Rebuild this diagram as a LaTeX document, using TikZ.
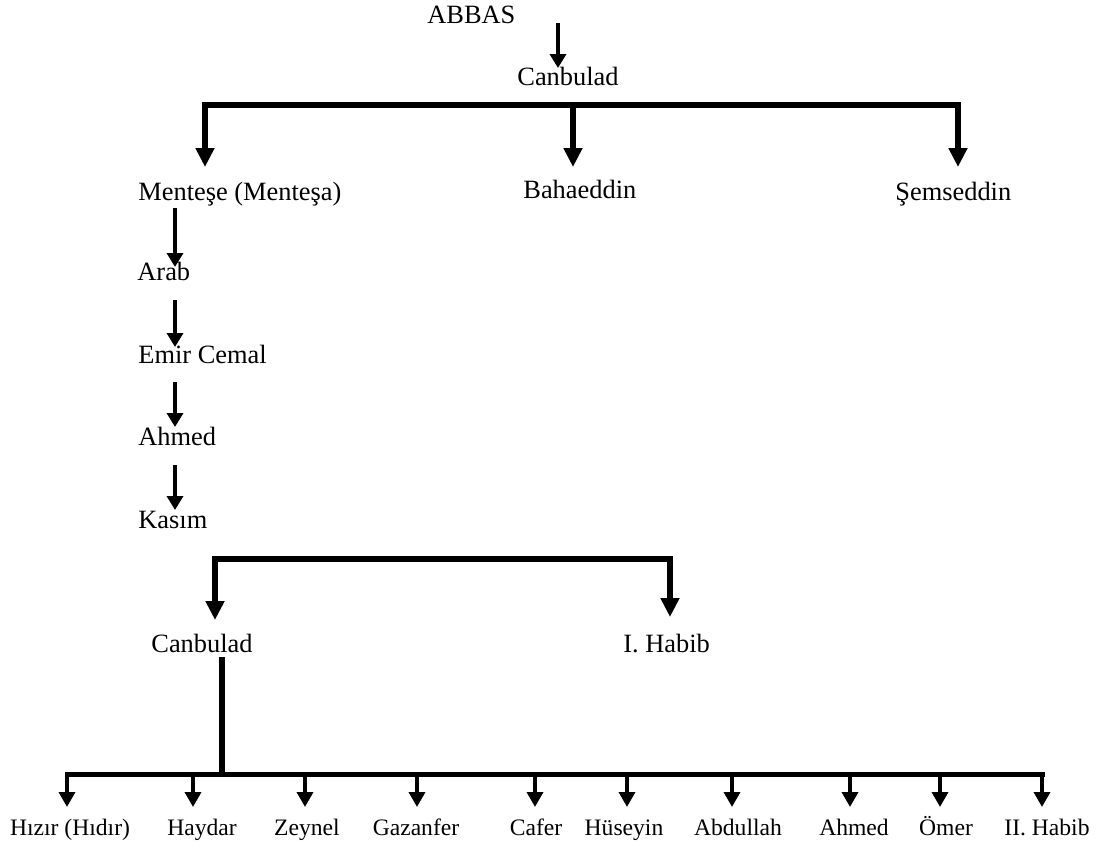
\documentclass[tikz,border=0pt]{standalone}
\usepackage{fontspec}
\setmainfont{Liberation Serif}
\usetikzlibrary{arrows.meta,calc}
\begin{document}
\begin{tikzpicture}[x=0.5pt,y=-0.5pt,
  lbl/.style={inner sep=0pt, anchor=base west, font=\fontsize{13.2}{16}\selectfont},
  sml/.style={inner sep=0pt, anchor=base, font=\fontsize{11.8}{14}\selectfont},
  bar/.style={line width=3pt, line cap=rect},
  thinbar/.style={line width=2.5pt, line cap=rect},
  bigarr/.style={line width=3pt, -{Triangle[width=9pt,length=9.5pt]}},
  arr/.style={line width=2pt, -{Triangle[width=8pt,length=7pt]}},
  smarr/.style={line width=1.75pt, -{Triangle[width=8pt,length=7.5pt]}}]
\useasboundingbox (0,0) rectangle (1100,846);

% labels
\node[lbl] (abbas)   at (427,24)  {ABBAS};
\node[lbl] (can1)    at (517,85)  {Canbulad};
\node[lbl] (mentese) at (138,200) {Menteşe (Menteşa)};
\node[lbl] (baha)    at (523,198) {Bahaeddin};
\node[lbl] (semse)   at (895,200) {Şemseddin};
\node[lbl] (arab)    at (137,280) {Arab};
\node[lbl] (emir)    at (138,363) {Emir Cemal};
\node[lbl] (ahmed)   at (138,445) {Ahmed};
\node[lbl] (kasim)   at (138,528) {Kasım};
\node[lbl] (can2)    at (151,652) {Canbulad};
\node[lbl] (habib)   at (623,652) {I. Habib};

% helper coordinates
\coordinate (colT) at (558,0);
\coordinate (colA) at (175,0);
\coordinate (tl) at (205,105);
\coordinate (tm) at (573,105);
\coordinate (tr) at (958,105);
\coordinate (ll) at (215,559);
\coordinate (lr) at (670,559);
\coordinate (bl) at (67,774);
\coordinate (br) at (1042,774);
\coordinate (bs) at (222,774);

% ABBAS -> Canbulad
\draw[arr] ($(abbas.base -| colT)+(0,-1)$) -- ($(can1.base -| colT)+(0,-17)$);

% first bracket
\draw[bar] (tl) -- (tr);
\draw[bigarr] (tl) -- ($(mentese.base -| tl)+(0,-33)$);
\draw[bigarr] (tm) -- ($(baha.base -| tm)+(0,-31)$);
\draw[bigarr] (tr) -- ($(semse.base -| tr)+(0,-33)$);

% chain
\draw[arr] ($(mentese.base -| colA)+(0,8)$) -- ($(arab.base -| colA)+(0,-13)$);
\draw[arr] ($(arab.base -| colA)+(0,20)$) -- ($(emir.base -| colA)+(0,-16)$);
\draw[arr] ($(emir.base -| colA)+(0,19)$) -- ($(ahmed.base -| colA)+(0,-18)$);
\draw[arr] ($(ahmed.base -| colA)+(0,20)$) -- ($(kasim.base -| colA)+(0,-18)$);

% second bracket
\draw[bar] (ll) -- (lr);
\draw[bigarr] (ll) -- ($(can2.base -| ll)+(0,-32)$);
\draw[bigarr] (lr) -- ($(habib.base -| lr)+(0,-35)$);

% stem to last generation
\draw[bar, line cap=butt] ($(can2.base -| bs)+(0,5)$) -- (bs);
\draw[thinbar] (bl) -- (br);

\foreach \n/\t/\cx/\ax in {hizir/{Hızır (Hıdır)}/70/67, haydar/Haydar/202/193, zeynel/Zeynel/307/305, gazanfer/Gazanfer/416/417, cafer/Cafer/536/535, huseyin/Hüseyin/624/627, abdullah/Abdullah/738/732, ahmedb/Ahmed/854/850, omer/Ömer/946/940, habibb/{II. Habib}/1047/1042}
{
  \node[sml] (\n) at (\cx,835) {\t};
  \draw[smarr] ($(\n.base)+(\ax-\cx,-61)$) -- ($(\n.base)+(\ax-\cx,-28)$);
}
\end{tikzpicture}
\end{document}
